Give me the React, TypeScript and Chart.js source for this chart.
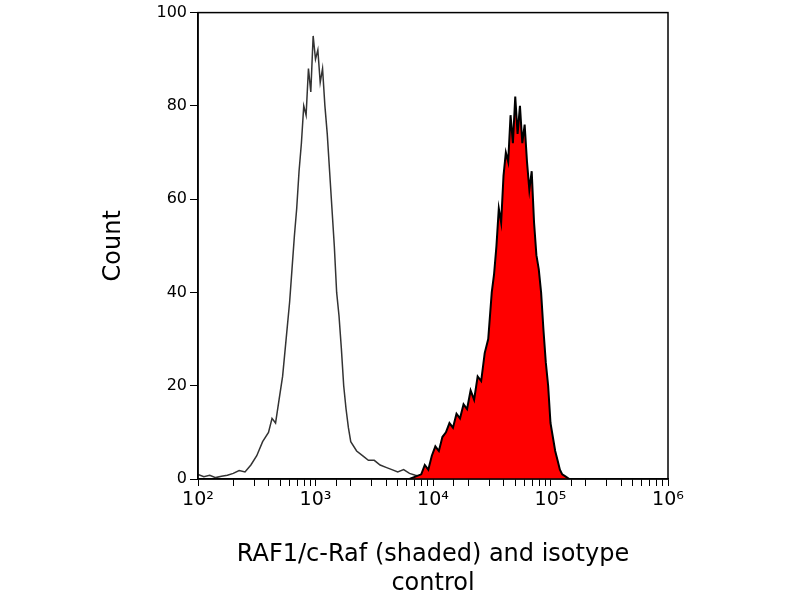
import React, { useEffect, useRef } from "react";
import { Chart, registerables } from "chart.js";
Chart.register(...registerables);

const isoLog = [2.0,2.05,2.1,2.15,2.2,2.25,2.3,2.35,2.4,2.45,2.5,2.55,2.6,2.63,2.66,2.69,2.72,2.75,2.78,2.8,2.82,2.84,2.86,2.88,2.9,2.92,2.94,2.96,2.98,3.0,3.02,3.04,3.06,3.08,3.1,3.12,3.14,3.16,3.18,3.2,3.22,3.24,3.26,3.28,3.3,3.35,3.4,3.45,3.5,3.55,3.6,3.65,3.7,3.75,3.8,3.85,3.9,3.95,4.0];
const isoCount = [1,0.5,0.8,0.3,0.6,0.8,1.2,1.8,1.5,3,5,8,10,13,12,17,22,30,38,45,52,58,66,72,80,78,88,83,95,90,92,85,88,80,74,66,58,50,40,35,28,20,15,11,8,6,5,4,4,3,2.5,2,1.5,2,1.2,0.8,0.5,0.3,0];
const rafLog = [3.8,3.85,3.9,3.93,3.96,3.99,4.02,4.05,4.08,4.11,4.14,4.17,4.2,4.23,4.26,4.29,4.32,4.35,4.38,4.41,4.44,4.47,4.5,4.52,4.54,4.56,4.58,4.6,4.62,4.64,4.66,4.68,4.7,4.72,4.74,4.76,4.78,4.8,4.82,4.84,4.86,4.88,4.9,4.92,4.94,4.96,4.98,5.0,5.02,5.04,5.06,5.08,5.1,5.13,5.16,5.2];
const rafCount = [0,0.5,1,3,2,5,7,6,9,10,12,11,14,13,16,15,19,17,22,21,27,30,40,44,50,58,55,65,70,68,78,72,82,74,80,72,76,68,62,66,55,48,45,40,32,25,20,12,9,6,4,2,1,0.5,0,0];
const xTickLabels: Record<number, string> = { 100: "10²", 1000: "10³", 10000: "10⁴", 100000: "10⁵", 1000000: "10⁶" };
const yTicks = [0, 20, 40, 60, 80, 100];

const font = "'DejaVu Sans', sans-serif";

export default function App() {
  const ref = useRef<HTMLCanvasElement>(null);
  useEffect(() => {
    document.body.style.margin = "0";
    const border = {
      id: "border",
      afterDatasetsDraw(c: any) {
        const { left, right, top, bottom } = c.chartArea;
        const ctx = c.ctx;
        ctx.save();
        ctx.strokeStyle = "#000";
        ctx.lineWidth = 1.5;
        ctx.strokeRect(left, top, right - left, bottom - top);
        ctx.restore();
      },
    };
    const chart = new Chart(ref.current!, {
      type: "line",
      data: {
        datasets: [
          {
            data: rafLog.map((l, i) => ({ x: Math.pow(10, l), y: rafCount[i] })),
            borderColor: "#000",
            backgroundColor: "#ff0000",
            fill: "origin",
            borderWidth: 2,
            pointRadius: 0,
          },
          {
            data: isoLog.map((l, i) => ({ x: Math.pow(10, l), y: isoCount[i] })),
            borderColor: "#333",
            borderWidth: 1.5,
            fill: false,
            pointRadius: 0,
          },
        ],
      },
      plugins: [border],
      options: {
        animation: false,
        responsive: false,
        layout: { padding: { left: 95, top: 8, right: 132, bottom: 2 } },
        plugins: { legend: { display: false }, tooltip: { enabled: false } },
        scales: {
          x: {
            type: "logarithmic",
            min: 100,
            max: 1000000,
            afterFit: (s: any) => { s.height = 119; },
            grid: { drawOnChartArea: false, drawTicks: true, tickLength: 7, color: "#000" },
            border: { color: "#000", width: 1.5 },
            ticks: {
              autoSkip: false,
              maxRotation: 0,
              color: "#000",
              font: { family: font, size: 19 },
              callback: (v: any) => xTickLabels[Math.round(Number(v))] ?? "",
            },
            title: {
              display: true,
              text: ["RAF1/c-Raf (shaded) and isotype", "control"],
              color: "#000",
              font: { family: font, size: 24 },
              padding: { top: 8, bottom: 0 },
            },
          },
          y: {
            min: 0,
            max: 100,
            afterFit: (s: any) => { s.width = 103; },
            afterBuildTicks: (s: any) => { s.ticks = yTicks.map((v) => ({ value: v })); },
            grid: { drawOnChartArea: false, drawTicks: true, tickLength: 8, color: "#000" },
            border: { color: "#000", width: 1.5 },
            ticks: { color: "#000", font: { family: font, size: 16 } },
            title: {
              display: true,
              text: "Count",
              color: "#000",
              font: { family: font, size: 24 },
            },
          },
        },
      },
    } as any);
    return () => chart.destroy();
  }, []);
  return <canvas ref={ref} width={800} height={600} />;
}
